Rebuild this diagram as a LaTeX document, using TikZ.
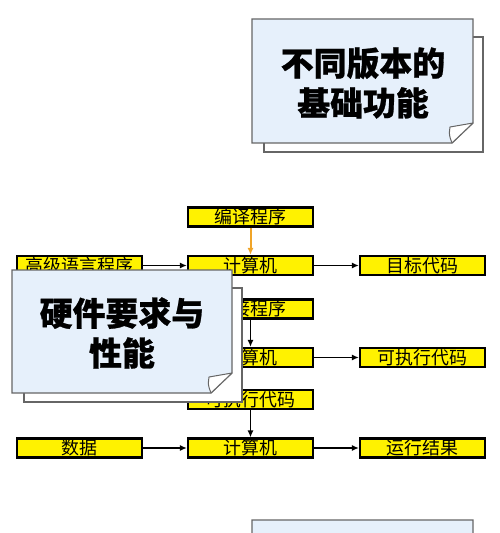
\documentclass[tikz,border=0pt]{standalone}
\usepackage{fontspec}
\setmainfont{Noto Sans CJK SC}
\newfontfamily\heavyfont[BoldFeatures={FakeBold=0.8}]{Noto Sans CJK SC}
\usetikzlibrary{arrows.meta}
\definecolor{notefill}{HTML}{E6F0FB}
\definecolor{arrorange}{HTML}{F0A428}
\begin{document}
\begin{tikzpicture}[x=1bp, y=-1bp,
  ybox/.style={draw=black, line width=2.2bp, fill=yellow, inner sep=0pt,
               minimum width=125bp, minimum height=19bp, font=\fontsize{18}{18}\selectfont},
  arr/.style={-{Latex[length=7bp, width=6bp]}, line width=1.7bp},
  oarr/.style={arr, draw=arrorange, line width=2bp},
  noteback/.style={draw=black!60, fill=white, line width=1.2bp},
  notefront/.style={draw=black!60, fill=notefill, line width=1.2bp},
  noteflap/.style={draw=black!60, fill=white, line width=1bp, line join=round},
  notetext/.style={font=\heavyfont\fontsize{33}{40}\selectfont\bfseries, align=center}]
\useasboundingbox (0,0) rectangle (500,533);

% ---------- compile ----------
\node[ybox]                  (c-tool) at (250.5, 217)   {编译程序};
\node[ybox]                  (c-in)   at (79.5, 265.5)  {高级语言程序};
\node[ybox]                  (c-pc)   at (250.5, 265.5) {计算机};
\node[ybox]                  (c-out)  at (422.5, 265.5) {目标代码};

% ---------- link ----------
\node[ybox]                  (l-tool) at (250.5, 309)   {链接程序};
\node[ybox]                  (l-pc)   at (250.5, 357.5) {计算机};
\node[ybox]                  (l-out)  at (422.5, 357.5) {可执行代码};

% ---------- run ----------
\node[ybox]                  (r-tool) at (250.5, 399.5) {可执行代码};
\node[ybox]                  (r-in)   at (79.5, 448)    {数据};
\node[ybox]                  (r-pc)   at (250.5, 448)   {计算机};
\node[ybox]                  (r-out)  at (422.5, 448)   {运行结果};

\draw[oarr] (c-tool) -- (c-pc);
\foreach \c in {c,r} {
  \draw[arr] (\c-in) -- (\c-pc);
}
\foreach \c in {c,l,r} {
  \draw[arr] (\c-pc) -- (\c-out);
}
\foreach \c in {l,r} {
  \draw[arr] (\c-tool) -- (\c-pc);
}

% ---------- notes ----------
\foreach \l/\t/\r/\b in {252/19/473/143, 12/270/232/393, 252/520/473/643} {
  \draw[noteback]  ({\l+12},{\t+18}) rectangle ({\r+10},{\b+9});
  \draw[notefront] (\l,\t) -- (\r,\t) -- (\r,{\b-20}) -- ({\r-21},\b) -- (\l,\b) -- cycle;
  \draw[noteflap]  ({\r-21},\b) .. controls ({\r-24},{\b-8}) .. ({\r-23},{\b-16})
                   -- (\r,{\b-20}) -- cycle;
}
\node[notetext]              (n-top)  at (363, 83)  {不同版本的\\基础功能};
\node[notetext]              (n-mid)  at (122, 333) {硬件要求与\\性能};
\end{tikzpicture}
\end{document}
